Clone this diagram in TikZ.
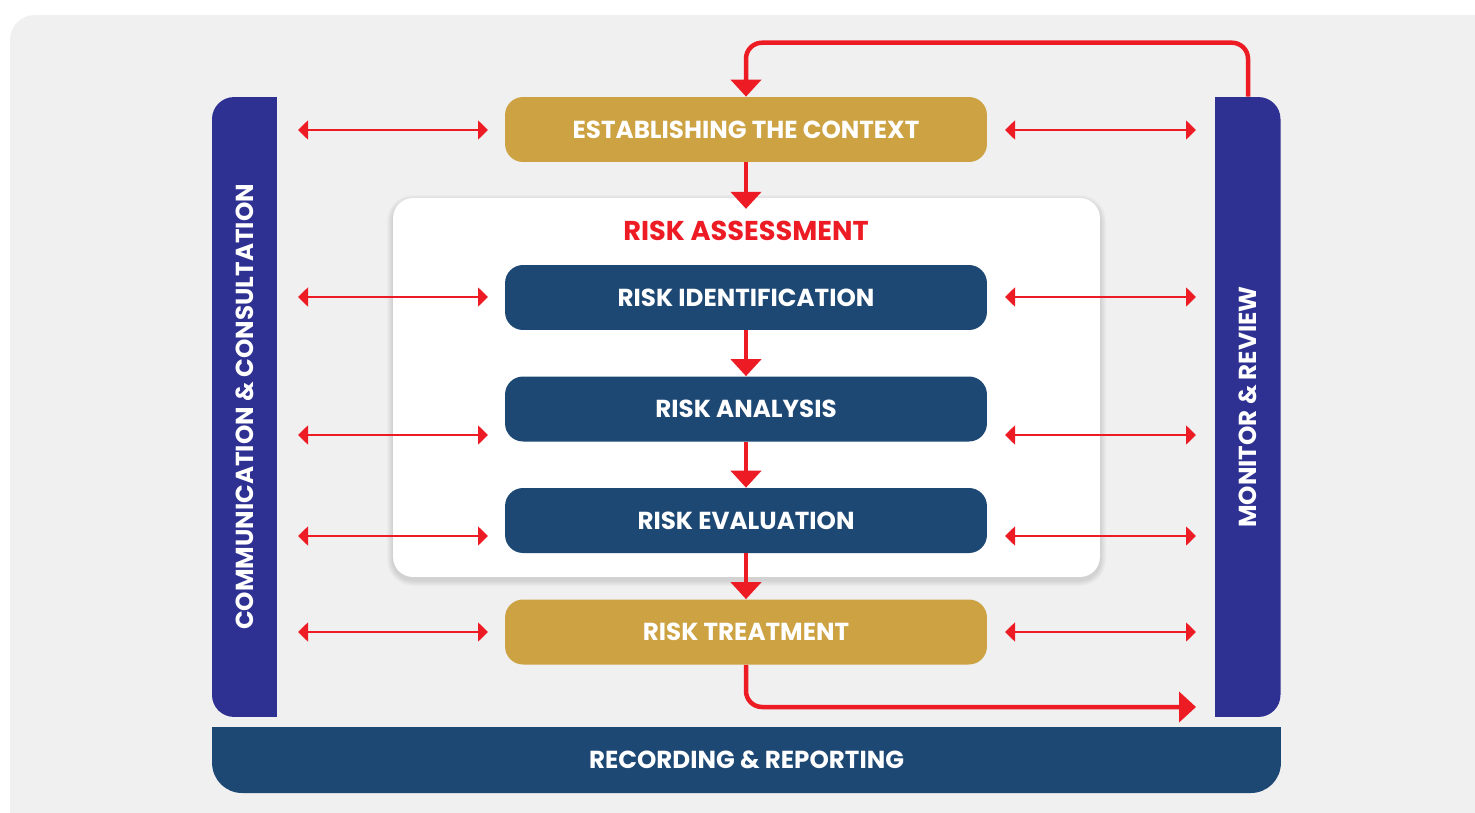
\documentclass[tikz,border=0pt]{standalone}
\usepackage{fontspec}
\setmainfont{Poppins}
\usetikzlibrary{arrows.meta,positioning}
\definecolor{bgGray}{HTML}{F0F0F0}
\definecolor{riskRed}{HTML}{ED1C24}
\definecolor{riskGold}{HTML}{CCA243}
\definecolor{riskNavy}{HTML}{1D4874}
\definecolor{riskIndigo}{HTML}{2E3192}

\begin{document}
\begin{tikzpicture}[
            x=0.02cm, y=-0.02cm,
            every node/.style={font=\fontsize{14}{16}\selectfont\bfseries, text=white, inner sep=0pt},
            stepbox/.style={
                rounded corners=0.36cm,
                minimum width=9.64cm,
                minimum height=1.3cm
            },
            goldbox/.style={stepbox, fill=riskGold},
            navybox/.style={stepbox, fill=riskNavy},
            sidebar/.style={fill=riskIndigo, rounded corners=0.44cm, rotate=90,
                            minimum width=12.4cm, minimum height=1.3cm},
            panel/.style={fill=white, rounded corners=0.4cm, minimum width=14.14cm, minimum height=7.58cm},
            flow/.style={-{Triangle[width=0.6cm, length=0.34cm]}, line width=0.09cm, draw=riskRed},
            link/.style={{Triangle[width=0.38cm, length=0.2cm]}-{Triangle[width=0.38cm, length=0.2cm]},
                         line width=0.035cm, draw=riskRed}
        ]

        \useasboundingbox (0,0) rectangle (1475,812);
        \fill[white] (0,0) rectangle (1475,812);
        \fill[bgGray, rounded corners=0.5cm] (10,15) rectangle (1530,870);

        %---------------- Side bars (square inner corners) ----------------%
        \fill[riskIndigo] (245,97) rectangle (277,717);
        \fill[riskIndigo] (1215,97) rectangle (1248,717);
        \fill[riskNavy] (212,727) rectangle (1281,760);

        \node[sidebar] (comm) at (244.5,407) {COMMUNICATION \& CONSULTATION};
        \node[sidebar] (monitor) at (1248,407) {MONITOR \& REVIEW};
        \node[fill=riskNavy, rounded corners=0.6cm, minimum width=21.38cm, minimum height=1.32cm]
            (report) at (746.5,760) {RECORDING \& REPORTING};

        %---------------- Risk assessment panel ----------------%
        % soft shadow, a few faint layers under the panel
        \foreach \s in {1,...,6}
            \fill[black, opacity=0.018, rounded corners=0.4cm+\s*0.02cm]
                (393-\s,198-\s+3) rectangle (1100+\s,577+\s+3);
        \node[panel] (assess) at (746.5,387.5) {};
        \node[text=riskRed, font=\fontsize{15.5}{18}\selectfont\bfseries, inner sep=0.24cm]
            (rtitle) at (746,231) {RISK ASSESSMENT};

        %---------------- Process steps ----------------%
        \node[goldbox] (estab) at (746,129.5) {ESTABLISHING THE CONTEXT};
        \node[navybox] (ident) at (746,297.5) {RISK IDENTIFICATION};
        \node[navybox] (analysis) at (746,409) {RISK ANALYSIS};
        \node[navybox] (evalu) at (746,520.5) {RISK EVALUATION};
        \node[goldbox] (treat) at (746,632) {RISK TREATMENT};

        %================ Main flow =================%
        \draw[flow] (estab) -- (rtitle);
        \draw[flow] (ident) -- (analysis);
        \draw[flow] (analysis) -- (evalu);
        \draw[flow] (evalu) -- (treat);

        %================ Feedback loops =================%
        % monitor is rotated, so its east anchor sits on top
        \draw[flow, rounded corners=0.32cm] (monitor.east) -- ++(0,-54) -| (estab.north);
        \coordinate (monin) at (1196,707);
        \draw[flow, rounded corners=0.32cm] (treat.south) |- (monin);

        %================ Communication / review links =================%
        \foreach \y [count=\i] in {130,297,435,536,632} {
            \coordinate (commL\i) at (298,\y);
            \coordinate (commR\i) at (488,\y);
            \coordinate (monL\i) at (1005,\y);
            \coordinate (monR\i) at (1196,\y);
            \draw[link] (commL\i) -- (commR\i);
            \draw[link] (monL\i) -- (monR\i);
        }

        \end{tikzpicture}
\end{document}
